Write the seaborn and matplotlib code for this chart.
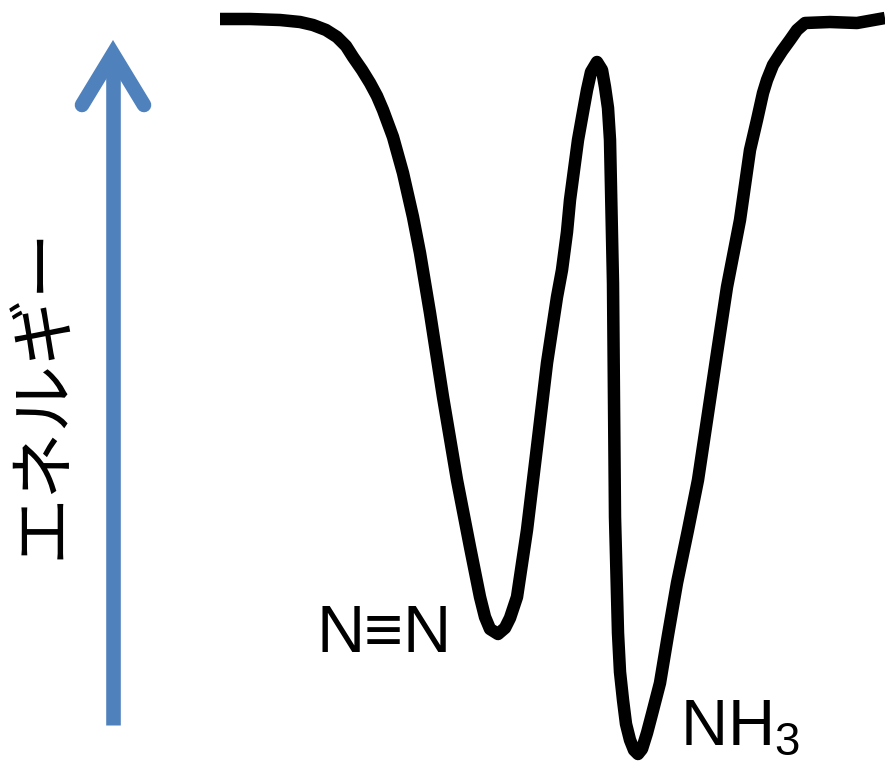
import numpy as np
import pandas as pd
import seaborn as sns
import matplotlib.pyplot as plt

# energy curve (pixel-like units, y grows downward)
curve_x = [220, 250, 280, 300, 313, 326, 337, 346, 353, 362, 370, 377, 383,
           393, 403, 413, 420, 430, 443, 457, 470, 480, 485, 490, 498, 505,
           510, 517, 527, 537, 547, 557, 562, 567, 570, 578, 583, 587, 591,
           597, 602, 605, 608, 610, 613, 613, 613, 615, 618, 620, 623, 626,
           630, 634, 638, 642, 647, 652, 660, 668, 677, 688, 698, 707, 717,
           727, 740, 750, 757, 763, 767, 773, 782, 790, 797, 805, 830, 857, 885]
curve_y = [19, 19, 20, 22, 25, 30, 37, 46, 57, 70, 83, 96, 110,
           137, 173, 217, 253, 313, 397, 480, 547, 597, 617, 629, 634, 628,
           618, 597, 530, 447, 363, 297, 270, 232, 200, 140, 112, 90, 72,
           62, 70, 87, 108, 140, 197, 270, 383, 517, 633, 672, 700, 724,
           740, 750, 754, 749, 733, 714, 683, 635, 583, 530, 480, 420, 353,
           287, 220, 150, 120, 93, 80, 65, 51, 40, 30, 23, 22, 23, 18]

axis_label = "エネルギー"
well_labels = ["N≡N", r"$\mathregular{NH_3}$"]

sns.set_theme(style="white")
plt.rcParams["font.family"] = ["Liberation Sans", "Noto Sans CJK JP", "DejaVu Sans"]
plt.rcParams["mathtext.fontset"] = "custom"
plt.rcParams["mathtext.rm"] = "Liberation Sans"

df = pd.DataFrame({"x": curve_x, "y": curve_y})

fig = plt.figure(figsize=(8.85, 7.67), dpi=100)
ax = fig.add_axes([0, 0, 1, 1])
sns.lineplot(data=df, x="x", y="y", sort=False, color="black", lw=9,
             solid_joinstyle="round", solid_capstyle="butt", ax=ax)
ax.set_xlim(0, 885)
ax.set_ylim(767, 0)
ax.axis("off")

# energy arrow
blue = "#4F81BD"
ax.plot([113, 113], [725, 56], color=blue, lw=10.5, solid_capstyle="butt")
ax.plot([82, 113, 144], [105, 54, 105], color=blue, lw=10.5,
        solid_capstyle="round", solid_joinstyle="miter")

ax.text(45, 392, axis_label, rotation=90, ha="center", va="center",
        fontsize=48, color="black")
ax.text(452, 652, well_labels[0], ha="right", va="baseline", fontsize=48,
        color="black")
ax.text(680, 745, well_labels[1], ha="left", va="baseline", fontsize=47,
        color="black")

fig.savefig("out.png", dpi=100)
